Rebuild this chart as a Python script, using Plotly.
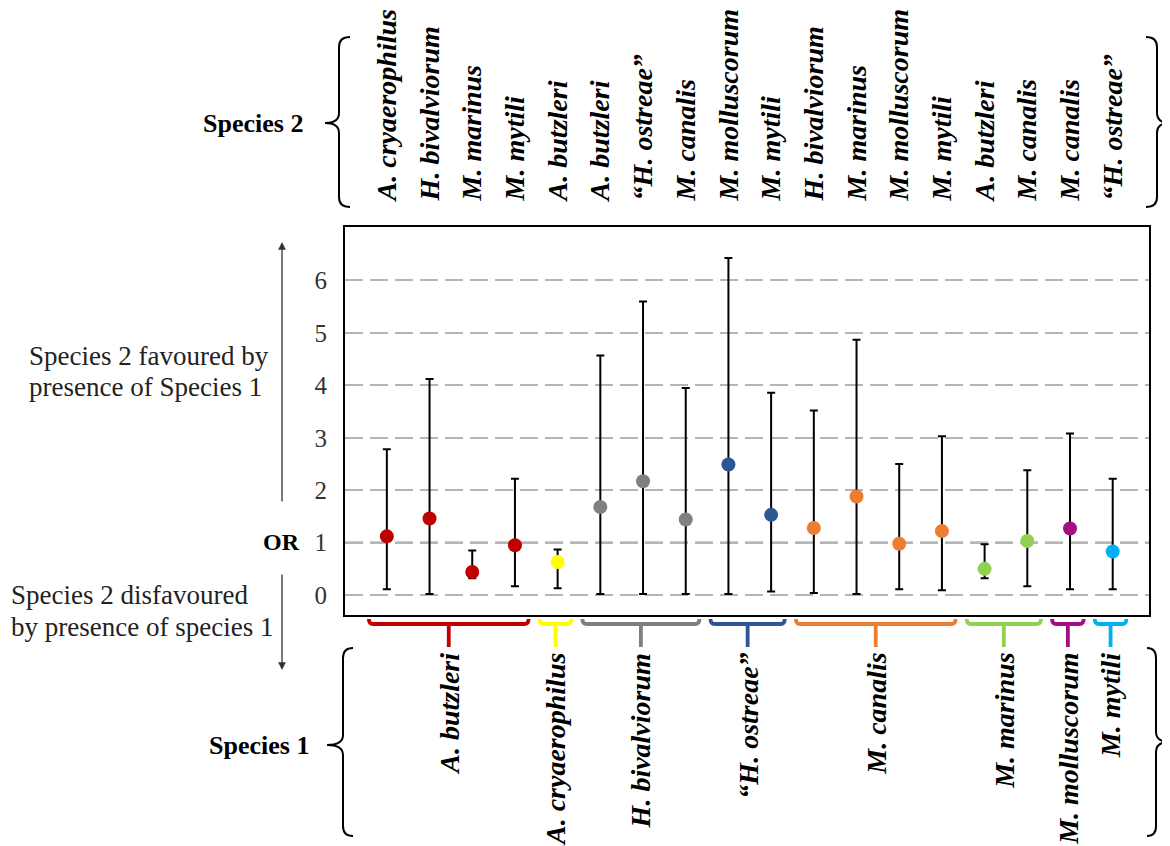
import plotly.graph_objects as go

# ---------------- data ----------------
species1 = ["A. butzleri", "A. butzleri", "A. butzleri", "A. butzleri",
            "A. cryaerophilus",
            "H. bivalviorum", "H. bivalviorum", "H. bivalviorum",
            "“H. ostreae”", "“H. ostreae”",
            "M. canalis", "M. canalis", "M. canalis", "M. canalis",
            "M. marinus", "M. marinus",
            "M. molluscorum",
            "M. mytili"]
species2 = ["A. cryaerophilus", "H. bivalviorum", "M. marinus", "M. mytili",
            "A. butzleri",
            "A. butzleri", "“H. ostreae”", "M. canalis",
            "M. molluscorum", "M. mytili",
            "H. bivalviorum", "M. marinus", "M. molluscorum", "M. mytili",
            "A. butzleri", "M. canalis",
            "M. canalis",
            "“H. ostreae”"]
odds_ratio = [1.12, 1.46, 0.44, 0.95, 0.63, 1.68, 2.17, 1.44, 2.49, 1.53,
              1.28, 1.88, 0.98, 1.22, 0.50, 1.03, 1.27, 0.83]
ci_low = [0.11, 0.02, 0.32, 0.17, 0.13, 0.02, 0.02, 0.02, 0.02, 0.07,
          0.04, 0.02, 0.11, 0.09, 0.32, 0.17, 0.11, 0.11]
ci_high = [2.78, 4.12, 0.85, 2.22, 0.87, 4.57, 5.60, 3.95, 6.43, 3.86,
           3.52, 4.87, 2.50, 3.03, 0.97, 2.38, 3.08, 2.22]
y_ticks = [0, 1, 2, 3, 4, 5, 6]

group_names = ["A. butzleri", "A. cryaerophilus", "H. bivalviorum", "“H. ostreae”",
               "M. canalis", "M. marinus", "M. molluscorum", "M. mytili"]
group_colors = ["#C00000", "#FFFF00", "#808080", "#2F5597",
                "#ED7D31", "#92D050", "#A50E82", "#00B0F0"]

# ---------------- geometry helpers (page pixels -> paper) ----------------
OFF = 8  # default page body margin
W, H = 1170 - OFF, 846 - OFF
ML, MR, MT, MB = 345 - OFF, 21, 227 - OFF, 231
PW, PH = W - ML - MR, H - MT - MB


def fx(px):
    return (px - OFF - ML) / PW


def fy(py):
    return (MT + PH - (py - OFF)) / PH


SERIF = "Liberation Serif, Times New Roman, serif"

idx = list(range(len(species1)))
color_map = dict(zip(group_names, group_colors))
pt_colors = [color_map[s] for s in species1]

fig = go.Figure()
fig.add_trace(go.Scatter(
    x=idx, y=odds_ratio, mode="markers",
    marker=dict(size=14, color=pt_colors, line=dict(width=0)),
    error_y=dict(type="data", symmetric=False,
                 array=[h - o for h, o in zip(ci_high, odds_ratio)],
                 arrayminus=[o - l for o, l in zip(odds_ratio, ci_low)],
                 color="black", thickness=2, width=4),
    hoverinfo="skip", showlegend=False,
))

shapes = []
# OR = 1 reference line
shapes.append(dict(type="line", xref="paper", yref="y", x0=0, x1=1, y0=1, y1=1,
                   line=dict(color="#3a3a3a", width=2, dash="18px,7px"), layer="below"))


def brace(xb, xend, xtip, y0, y1, ym, r=10):
    pts = [
        f"M {fx(xend)},{fy(y0)}",
        f"Q {fx(xb)},{fy(y0)} {fx(xb)},{fy(y0 + r)}",
        f"L {fx(xb)},{fy(ym - r)}",
        f"Q {fx(xb)},{fy(ym)} {fx(xtip)},{fy(ym)}",
        f"Q {fx(xb)},{fy(ym)} {fx(xb)},{fy(ym + r)}",
        f"L {fx(xb)},{fy(y1 - r)}",
        f"Q {fx(xb)},{fy(y1)} {fx(xend)},{fy(y1)}",
    ]
    return dict(type="path", xref="paper", yref="paper", path=" ".join(pts),
                line=dict(color="black", width=2))


shapes.append(brace(339, 350, 325, 37, 207, 123))
shapes.append(brace(1157, 1146, 1170, 37, 207, 123))
shapes.append(brace(343, 353, 327, 648, 836, 745))
shapes.append(brace(1156, 1147, 1170, 648, 836, 742))

annotations = []
# group brackets below the plot
yb_end, yb_h, yb_stem = fy(619), fy(624), fy(647)
for g, c in zip(group_names, group_colors):
    members = [i for i, s in enumerate(species1) if s == g]
    x0 = members[0] - 0.42
    x1 = members[-1] + 0.32
    xm = (x0 + x1) / 2
    d = 0.1
    path = (f"M {x0},{yb_end} Q {x0},{yb_h} {x0 + d},{yb_h} L {x1 - d},{yb_h} "
            f"Q {x1},{yb_h} {x1},{yb_end} M {xm},{yb_h} L {xm},{yb_stem}")
    shapes.append(dict(type="path", xref="x", yref="paper", path=path,
                       line=dict(color=c, width=3.8)))
    annotations.append(dict(x=xm, y=fy(651), xref="x", yref="paper",
                            text=f"<b><i>{g}</i></b>", textangle=-90,
                            xanchor="center", yanchor="top", showarrow=False,
                            font=dict(family=SERIF, size=28, color="black")))


def txt(x, y, s, size, anchor="left", bold=False, color="#222222"):
    t = f"<b>{s}</b>" if bold else s
    return dict(x=fx(x), y=fy(y), xref="paper", yref="paper", text=t,
                xanchor=anchor, yanchor="middle", showarrow=False,
                font=dict(family=SERIF, size=size, color=color))


annotations += [
    txt(305, 123, "Species 2", 26, "right", True, "black"),
    txt(311, 745, "Species 1", 26, "right", True, "black"),
    txt(281, 542, "OR", 24, "center", True, "black"),
    txt(27, 356, "Species 2 favoured by", 27),
    txt(27, 387, "presence of Species 1", 27),
    txt(9, 595, "Species 2 disfavoured", 27),
    txt(9, 627, "by presence of species 1", 27),
    # arrows
    dict(x=fx(282), y=fy(242), xref="paper", yref="paper", text="",
         showarrow=True, ax=0, ay=261, arrowhead=2, arrowsize=1.2, arrowwidth=1.3,
         arrowcolor="#333333"),
    dict(x=fx(282), y=fy(670), xref="paper", yref="paper", text="",
         showarrow=True, ax=0, ay=-97, arrowhead=2, arrowsize=1.2, arrowwidth=1.3,
         arrowcolor="#333333"),
]

fig.update_layout(
    width=W, height=H, autosize=False,
    margin=dict(l=ML, r=MR, t=MT, b=MB, pad=0),
    paper_bgcolor="white", plot_bgcolor="white",
    shapes=shapes, annotations=annotations,
    showlegend=False,
    xaxis=dict(range=[-0.98, 17.85], side="top", automargin=False,
               tickmode="array", tickvals=idx,
               ticktext=[f"<b><i>{s}</i></b>" for s in species2],
               tickangle=-90, tickfont=dict(family=SERIF, size=28, color="black"),
               ticks="outside", ticklen=19, tickcolor="rgba(0,0,0,0)",
               showgrid=False, zeroline=False,
               showline=True, mirror=True, linecolor="black", linewidth=2),
    yaxis=dict(range=[-0.38, 7.02], automargin=False,
               tickmode="array", tickvals=y_ticks,
               ticktext=[str(v) for v in y_ticks],
               tickfont=dict(family=SERIF, size=25, color="#333333"),
               ticks="outside", ticklen=11, tickcolor="rgba(0,0,0,0)",
               showgrid=True, gridcolor="#b5b5b5", gridwidth=2, griddash="18px,7px",
               zeroline=False,
               showline=True, mirror=True, linecolor="black", linewidth=2),
)

fig.write_html("out.html")
